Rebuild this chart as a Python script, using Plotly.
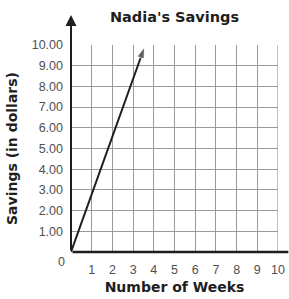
import plotly.graph_objects as go

weeks = [0, 3.55]
savings = [0, 9.9]
x_ticks = [1, 2, 3, 4, 5, 6, 7, 8, 9, 10]
x_tick_labels = ["1", "2", "3", "4", "5", "6", "7", "8", "9", "10"]
y_ticks = [1, 2, 3, 4, 5, 6, 7, 8, 9, 10]
y_tick_labels = ["1.00", "2.00", "3.00", "4.00", "5.00", "6.00", "7.00", "8.00", "9.00", "10.00"]

tick_font = "Liberation Sans, Arial, sans-serif"
title_font = "DejaVu Sans, sans-serif"
tick_color = "#505050"
ink = "#1e1e1e"

fig = go.Figure()
fig.add_trace(go.Scatter(
    x=weeks, y=savings, mode="lines+markers",
    line=dict(color=ink, width=2),
    marker=dict(symbol="arrow", angleref="previous", size=[0, 12], color=ink),
    showlegend=False, hoverinfo="skip", cliponaxis=False,
))

fig.update_layout(
    width=289, height=299,
    margin=dict(l=71, r=11, t=45, b=47),
    paper_bgcolor="white", plot_bgcolor="white",
    title=dict(text="<b>Nadia's Savings</b>", xref="paper", x=0.5, xanchor="center",
               yref="container", y=1 - 17 / 299, yanchor="middle",
               font=dict(family=title_font, size=14.5, color=ink)),
    font=dict(family=tick_font),
)
fig.update_xaxes(
    range=[0, 10], tickvals=x_ticks, ticktext=x_tick_labels,
    showgrid=True, gridcolor="#9a9a9a", gridwidth=1.2,
    showline=False, zeroline=False, ticks="", ticklabelstandoff=8,
    tickfont=dict(size=12.5, color=tick_color),
    title=dict(text="<b>Number of Weeks</b>", font=dict(family=title_font, size=14, color=ink), standoff=6),
    automargin=False,
)
fig.update_yaxes(
    range=[0, 10], tickvals=y_ticks, ticktext=y_tick_labels,
    showgrid=True, gridcolor="#9a9a9a", gridwidth=1.2,
    showline=False, zeroline=False, ticks="", ticklabelstandoff=7,
    tickfont=dict(size=12.5, color=tick_color),
    title=dict(text="<b>Savings (in dollars)</b>", font=dict(family=title_font, size=14, color=ink), standoff=10),
    automargin=False,
)
# y-axis arrow
fig.add_annotation(x=0, y=11.45, ax=0, ay=0, xref="x", yref="y", axref="x", ayref="y",
                   showarrow=True, arrowhead=2, arrowsize=1.1, arrowwidth=2, arrowcolor=ink, text="")
# x-axis line extending past the grid
fig.add_annotation(x=10.5, y=0, ax=0, ay=0, xref="x", yref="y", axref="x", ayref="y",
                   showarrow=True, arrowhead=0, arrowwidth=2.5, arrowcolor=ink, text="")
# right border gridline
fig.add_shape(type="line", x0=10, x1=10, y0=0, y1=10, xref="x", yref="y",
              line=dict(color="#9a9a9a", width=1.2))
fig.add_annotation(x=0, y=0, xref="x", yref="y", text="0", showarrow=False,
                   xanchor="right", yanchor="top", xshift=-4, yshift=-1,
                   font=dict(size=12.5, color=tick_color))

fig.write_html("out.html", config={"displayModeBar": False},
               post_script="document.body.style.margin='0';document.body.style.overflow='hidden';")
